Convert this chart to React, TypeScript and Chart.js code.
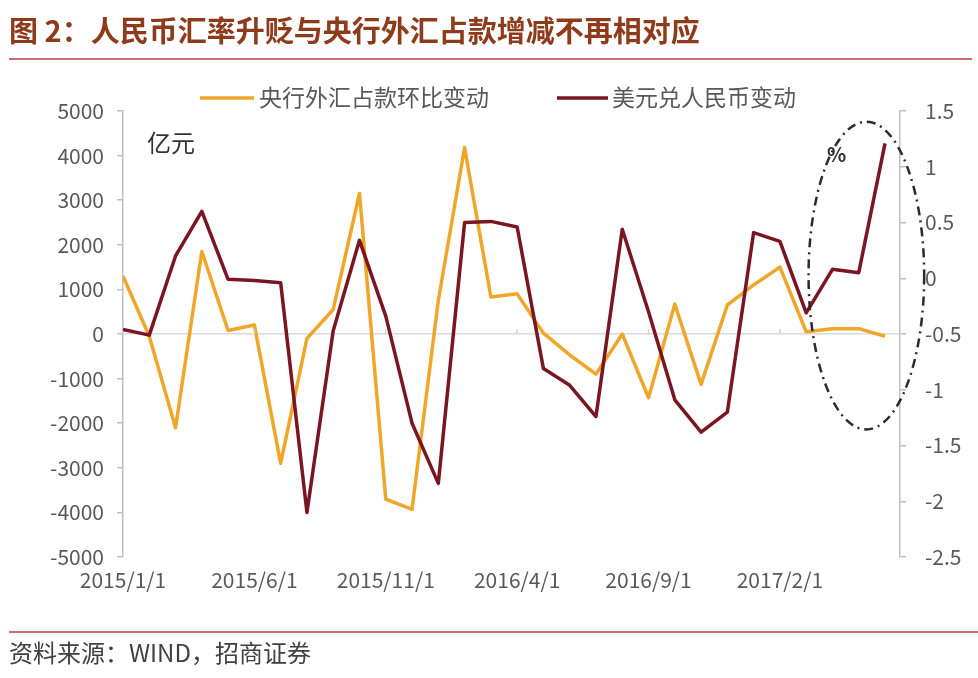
import React, { useEffect, useRef } from 'react';
import { Chart, registerables } from 'chart.js';

Chart.register(...registerables);

// ---- data ----
const months = [
  '2015/1/1', '2015/2/1', '2015/3/1', '2015/4/1', '2015/5/1', '2015/6/1',
  '2015/7/1', '2015/8/1', '2015/9/1', '2015/10/1', '2015/11/1', '2015/12/1',
  '2016/1/1', '2016/2/1', '2016/3/1', '2016/4/1', '2016/5/1', '2016/6/1',
  '2016/7/1', '2016/8/1', '2016/9/1', '2016/10/1', '2016/11/1', '2016/12/1',
  '2017/1/1', '2017/2/1', '2017/3/1', '2017/4/1', '2017/5/1', '2017/6/1',
];

// 央行外汇占款环比变动 (亿元, left axis)
const fxReserveChange = [
  1300, -50, -2100, 1850, 80, 200, -2900, -100, 550, 3150,
  -3700, -3930, 750, 4180, 830, 900, 20, -470, -900, 0,
  -1430, 670, -1130, 650, 1100, 1500, 50, 120, 120, -50,
];

// 美元兑人民币变动 (%, right axis)
const usdCnyChange = [
  -0.46, -0.51, 0.2, 0.6, -0.01, -0.02, -0.04, -2.1, -0.47, 0.34,
  -0.34, -1.3, -1.84, 0.5, 0.51, 0.46, -0.81, -0.96, -1.24, 0.44,
  -0.3, -1.09, -1.38, -1.2, 0.41, 0.33, -0.31, 0.08, 0.05, 1.21,
];

const seriesNames = ['央行外汇占款环比变动', '美元兑人民币变动'];
const seriesColors = ['#EFA62A', '#7A1522'];

const TITLE = '图 2：人民币汇率升贬与央行外汇占款增减不再相对应';
const SOURCE = '资料来源：WIND，招商证券';
const LEFT_UNIT = '亿元';
const RIGHT_UNIT = '%';

const FONT = '"Noto Sans CJK SC", "Noto Sans", sans-serif';
const TICK_COLOR = '#595959';
const AXIS_COLOR = '#bfbfbf';

const decorPlugin = {
  id: 'decor',
  beforeDraw(chart: any) {
    const ctx = chart.ctx;
    ctx.save();
    ctx.fillStyle = '#ffffff';
    ctx.fillRect(0, 0, chart.width, chart.height);
    ctx.restore();
  },
  afterDraw(chart: any) {
    const ctx = chart.ctx;
    const xs = chart.scales.x;
    const yl = chart.scales.y;
    const yr = chart.scales.y1;
    ctx.save();

    // title
    ctx.font = `bold 29px ${FONT}`;
    ctx.fillStyle = '#8E3B1C';
    ctx.textBaseline = 'middle';
    ctx.textAlign = 'left';
    ctx.fillText(TITLE, 9, 31);

    // separator lines
    ctx.strokeStyle = '#c96d6d';
    ctx.lineWidth = 2;
    ctx.beginPath();
    ctx.moveTo(9, 59);
    ctx.lineTo(972, 59);
    ctx.moveTo(9, 632);
    ctx.lineTo(978, 632);
    ctx.stroke();

    // source
    ctx.font = `24px ${FONT}`;
    ctx.fillStyle = '#404040';
    ctx.fillText(SOURCE, 9, 653);

    // legend
    const legendPos = [
      { x0: 200, x1: 254, tx: 259 },
      { x0: 557, x1: 608, tx: 612 },
    ];
    chart.data.datasets.forEach((ds: any, i: number) => {
      const p = legendPos[i];
      ctx.strokeStyle = ds.borderColor;
      ctx.lineWidth = 3.5;
      ctx.beginPath();
      ctx.moveTo(p.x0, 98);
      ctx.lineTo(p.x1, 98);
      ctx.stroke();
      ctx.font = `23px ${FONT}`;
      ctx.fillStyle = TICK_COLOR;
      ctx.fillText(ds.label, p.tx, 97);
    });

    // units
    ctx.font = `24px ${FONT}`;
    ctx.fillStyle = '#333333';
    ctx.fillText(LEFT_UNIT, 147, 143);
    ctx.font = `bold 20px ${FONT}`;
    ctx.fillText(RIGHT_UNIT, 827, 154);

    // small tick marks on the zero line
    const y0 = yl.getPixelForValue(0);
    ctx.strokeStyle = '#d0d0d0';
    ctx.lineWidth = 1.5;
    xs.ticks.forEach((t: any) => {
      const px = xs.getPixelForValue(t.value);
      if (px <= chart.chartArea.left + 1) return;
      ctx.beginPath();
      ctx.moveTo(px, y0);
      ctx.lineTo(px, y0 - 5);
      ctx.stroke();
    });

    // dash-dot ellipse highlighting the latest months
    const cxVal = 28.29;
    const cyVal = 0.024;
    const cx = xs.getPixelForValue(cxVal);
    const cy = yr.getPixelForValue(cyVal);
    const rx = xs.getPixelForValue(cxVal + 2.2) - cx;
    const ry = yr.getPixelForValue(cyVal - 1.38) - cy;
    ctx.strokeStyle = '#2b2b2b';
    ctx.lineWidth = 2.5;
    ctx.setLineDash([9, 5, 2, 5]);
    ctx.beginPath();
    ctx.ellipse(cx, cy, rx, ry, 0, 0, Math.PI * 2);
    ctx.stroke();
    ctx.setLineDash([]);

    ctx.restore();
  },
};

export default function App() {
  const ref = useRef<HTMLCanvasElement | null>(null);

  useEffect(() => {
    document.body.style.margin = '0';
    if (!ref.current) return;
    const tickFont = { family: FONT, size: 21 };
    const chart = new Chart(ref.current, {
      type: 'line',
      data: {
        datasets: [
          {
            label: seriesNames[0],
            data: fxReserveChange.map((v, i) => ({ x: i, y: v })),
            borderColor: seriesColors[0],
            backgroundColor: seriesColors[0],
            borderWidth: 3.5,
            pointRadius: 0,
            tension: 0,
            borderJoinStyle: 'round',
            yAxisID: 'y',
            order: 2,
          },
          {
            label: seriesNames[1],
            data: usdCnyChange.map((v, i) => ({ x: i, y: v })),
            borderColor: seriesColors[1],
            backgroundColor: seriesColors[1],
            borderWidth: 3.5,
            pointRadius: 0,
            tension: 0,
            borderJoinStyle: 'round',
            yAxisID: 'y1',
            order: 1,
          },
        ],
      },
      options: {
        responsive: false,
        animation: false,
        layout: { padding: { top: 111, left: 0, right: 0, bottom: 0 } },
        plugins: {
          legend: { display: false },
          title: { display: false },
          tooltip: { enabled: false },
        },
        scales: {
          x: {
            type: 'linear',
            min: 0,
            max: 29.57,
            afterFit: (s: any) => { s.height = 121; },
            grid: { display: false, drawTicks: false },
            border: { display: false },
            ticks: {
              stepSize: 5,
              includeBounds: false,
              autoSkip: false,
              maxRotation: 0,
              padding: 10,
              color: TICK_COLOR,
              font: tickFont,
              callback: (v: any) => months[v] ?? '',
            },
          },
          y: {
            position: 'left',
            min: -5000,
            max: 5000,
            afterFit: (s: any) => { s.width = 123; },
            ticks: {
              stepSize: 1000,
              padding: 13,
              color: TICK_COLOR,
              font: tickFont,
              callback: (v: any) => String(v),
            },
            grid: {
              color: (c: any) => (c.tick && c.tick.value === 0 ? '#d9d9d9' : 'rgba(0,0,0,0)'),
              lineWidth: 1.5,
              tickColor: AXIS_COLOR,
              tickLength: 6,
            },
            border: { display: true, color: AXIS_COLOR, width: 1.5 },
          },
          y1: {
            position: 'right',
            min: -2.5,
            max: 1.5,
            afterFit: (s: any) => { s.width = 78; },
            ticks: {
              stepSize: 0.5,
              padding: 19,
              color: TICK_COLOR,
              font: tickFont,
              callback: (v: any) => String(v),
            },
            grid: {
              drawOnChartArea: false,
              color: AXIS_COLOR,
              tickColor: AXIS_COLOR,
              tickLength: 6,
              lineWidth: 1.5,
            },
            border: { display: true, color: AXIS_COLOR, width: 1.5 },
          },
        },
      },
      plugins: [decorPlugin],
    } as any);
    return () => chart.destroy();
  }, []);

  return (
    <div style={{ width: 978, height: 678 }}>
      <canvas ref={ref} width={978} height={678} style={{ display: 'block' }} />
    </div>
  );
}
